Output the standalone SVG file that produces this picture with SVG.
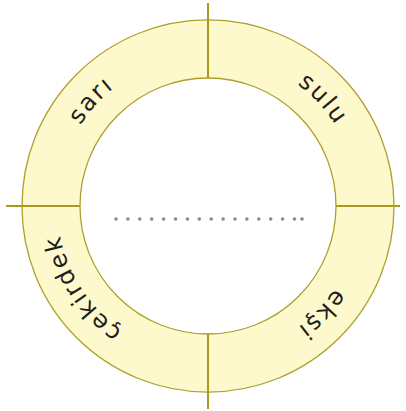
<svg xmlns="http://www.w3.org/2000/svg" xmlns:xlink="http://www.w3.org/1999/xlink" width="406" height="411" viewBox="0 0 406 411">
<style>
.ring{fill:#FEF9CD;stroke:#ADA02A;stroke-width:1.3;fill-rule:evenodd}
.axis{stroke:#A89A1C;stroke-width:2;fill:none}
.lbl{font-family:"DejaVu Sans",sans-serif;font-size:24px;fill:#1e1e1e;letter-spacing:2px}
.dot{fill:#8a8a8e}
</style>
<defs>
<path id="arc" d="M 359 206 A 151 151 0 1 1 57 206 A 151 151 0 1 1 359 206"/>
</defs>
<g id="ring">
<path class="ring" d="M 22 206 A 186 186 0 1 1 394 206 A 186 186 0 1 1 22 206 Z M 80 206 A 128 128 0 1 0 336 206 A 128 128 0 1 0 80 206 Z"/>
</g>
<g id="connectors">
<line class="axis" x1="208" y1="3" x2="208" y2="78"/>
<line class="axis" x1="208" y1="334" x2="208" y2="409"/>
<line class="axis" x1="6" y1="206" x2="80" y2="206"/>
<line class="axis" x1="336" y1="206" x2="400" y2="206"/>
</g>
<g id="label-ekşi"><text class="lbl"><textPath xlink:href="#arc" startOffset="12.1%" text-anchor="middle">ekşi</textPath></text></g>
<g id="label-çekirdek"><text class="lbl"><textPath xlink:href="#arc" startOffset="40.8%" text-anchor="middle">çekirdek</textPath></text></g>
<g id="label-sarı"><text class="lbl"><textPath xlink:href="#arc" startOffset="61.7%" text-anchor="middle">sarı</textPath></text></g>
<g id="label-sulu"><text class="lbl"><textPath xlink:href="#arc" startOffset="88.1%" text-anchor="middle">sulu</textPath></text></g>
<g id="dots">
<circle class="dot" cx="116" cy="219" r="1.8"/>
<circle class="dot" cx="127.9" cy="219" r="1.8"/>
<circle class="dot" cx="139.8" cy="219" r="1.8"/>
<circle class="dot" cx="151.7" cy="219" r="1.8"/>
<circle class="dot" cx="163.6" cy="219" r="1.8"/>
<circle class="dot" cx="175.5" cy="219" r="1.8"/>
<circle class="dot" cx="187.4" cy="219" r="1.8"/>
<circle class="dot" cx="199.3" cy="219" r="1.8"/>
<circle class="dot" cx="211.2" cy="219" r="1.8"/>
<circle class="dot" cx="223.1" cy="219" r="1.8"/>
<circle class="dot" cx="235" cy="219" r="1.8"/>
<circle class="dot" cx="246.9" cy="219" r="1.8"/>
<circle class="dot" cx="258.8" cy="219" r="1.8"/>
<circle class="dot" cx="270.7" cy="219" r="1.8"/>
<circle class="dot" cx="282.6" cy="219" r="1.8"/>
<circle class="dot" cx="294.5" cy="219" r="1.8"/>
<circle class="dot" cx="302" cy="219" r="1.8"/>
</g>
</svg>
